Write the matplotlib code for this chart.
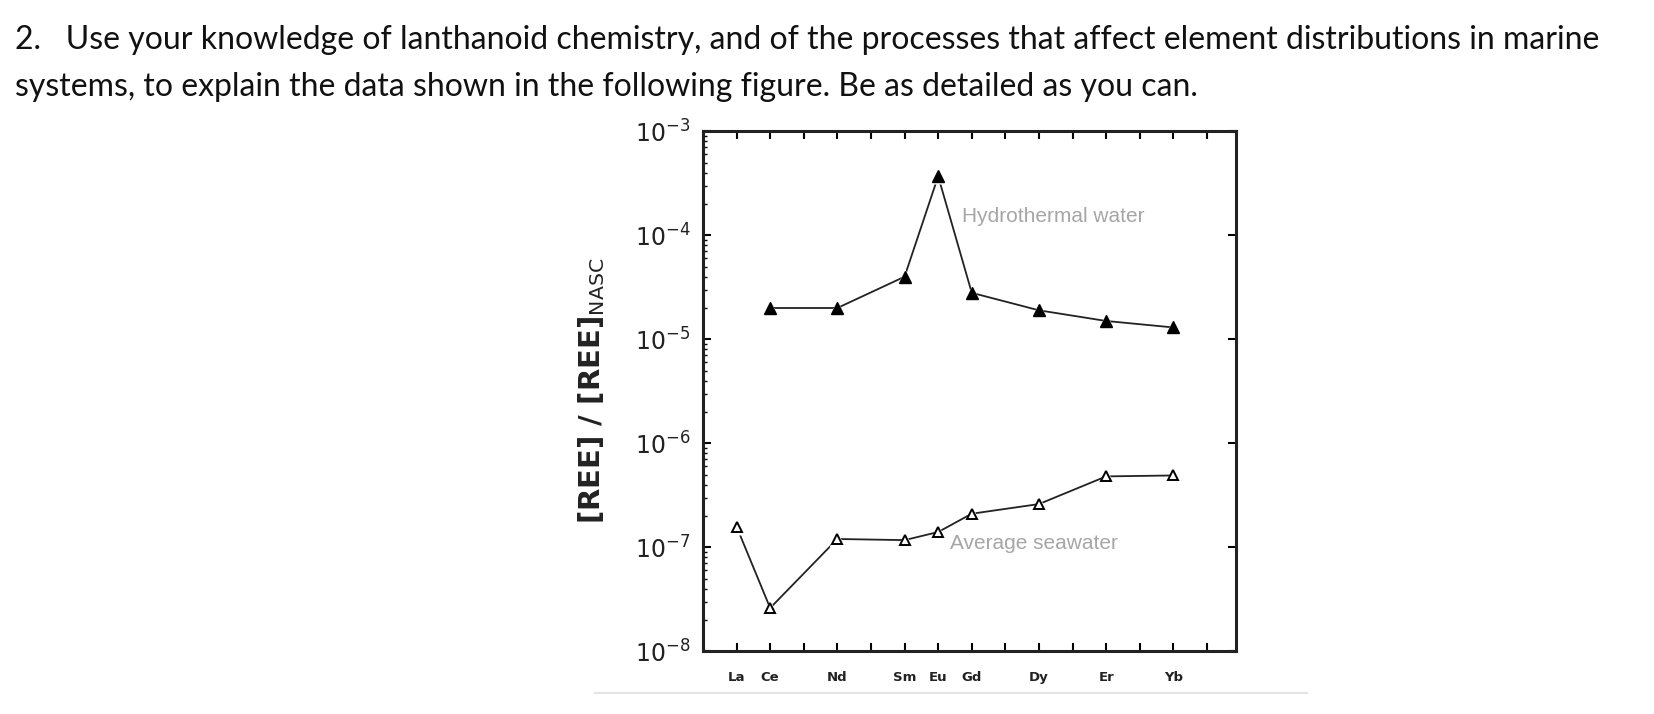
import matplotlib.pyplot as plt
from matplotlib.ticker import LogLocator, NullFormatter, FixedLocator

# REE positions La..Lu (1..15), labels only on the plotted elements
elements = ["La", "Ce", "Pr", "Nd", "Pm", "Sm", "Eu", "Gd", "Tb", "Dy", "Ho", "Er", "Tm", "Yb", "Lu"]
tick_labels = ["La", "Ce", "", "Nd", "", "Sm", "Eu", "Gd", "", "Dy", "", "Er", "", "Yb", ""]

hydro_elems = ["Ce", "Nd", "Sm", "Eu", "Gd", "Dy", "Er", "Yb"]
hydro_vals = [2.0e-5, 2.0e-5, 4.0e-5, 3.7e-4, 2.8e-5, 1.9e-5, 1.5e-5, 1.3e-5]

sea_elems = ["La", "Ce", "Nd", "Sm", "Eu", "Gd", "Dy", "Er", "Yb"]
sea_vals = [1.58e-7, 2.6e-8, 1.2e-7, 1.17e-7, 1.4e-7, 2.1e-7, 2.6e-7, 4.8e-7, 4.9e-7]

question = ("2.   Use your knowledge of lanthanoid chemistry, and of the processes that affect element distributions in marine\n"
            "systems, to explain the data shown in the following figure. Be as detailed as you can.")

hx = [elements.index(e) + 1 for e in hydro_elems]
sx = [elements.index(e) + 1 for e in sea_elems]

fig = plt.figure(figsize=(16.54, 7.14), dpi=100)
fig.text(0.009, 0.965, question, ha="left", va="top", fontsize=23,
         family="Lato", linespacing=1.7, color="#111111")

ax = fig.add_axes([0.425, 0.088, 0.322, 0.728])
ax.set_yscale("log")
ax.set_ylim(1e-8, 1e-3)
ax.set_xlim(0, 15.85)

# hydrothermal water: filled triangles, line broken near markers
ax.plot(hx, hydro_vals, color="#222222", lw=1.3, zorder=2)
ax.plot(hx, hydro_vals, ls="none", marker="^", ms=12, mfc="white", mec="none", zorder=3)
ax.plot(hx, hydro_vals, ls="none", marker="^", ms=8, mfc="black", mec="black", zorder=4)

# average seawater: open triangles
ax.plot(sx, sea_vals, color="#222222", lw=1.3, zorder=2)
ax.plot(sx, sea_vals, ls="none", marker="^", ms=12, mfc="white", mec="none", zorder=3)
ax.plot(sx, sea_vals, ls="none", marker="^", ms=7.5, mfc="white", mec="black", mew=1.4, zorder=4)

ax.text(7.7, 1.35e-4, "Hydrothermal water", color="#a6a6a6", fontsize=15, family="Liberation Sans")
ax.text(7.35, 0.97e-7, "Average seawater", color="#a6a6a6", fontsize=15, family="Liberation Sans")

for s in ax.spines.values():
    s.set_linewidth(2.2)
    s.set_color("#222222")

ax.xaxis.set_major_locator(FixedLocator(range(1, 16)))
ax.set_xticklabels(tick_labels, fontsize=9.5, fontweight="bold", family="DejaVu Sans", color="#222222")
ax.tick_params(axis="x", which="major", direction="in", length=6, width=1.5, top=True, pad=14)
ax.yaxis.set_major_locator(LogLocator(base=10, numticks=10))
ax.yaxis.set_minor_locator(LogLocator(base=10, subs=[2, 3, 4, 5, 6, 7, 8, 9], numticks=20))
ax.yaxis.set_minor_formatter(NullFormatter())
ax.tick_params(axis="y", which="major", direction="in", length=6, width=1.5, right=True,
               labelsize=17, pad=9, labelcolor="#222222")

ax.tick_params(axis="y", which="minor", direction="in", length=3, width=1)

ax.set_ylabel(r"[REE] / [REE]$_{\mathrm{NASC}}$", fontsize=21, fontweight="bold",
              family="DejaVu Sans", color="#222222", labelpad=20)

# faint scan line beneath the figure
fig.add_artist(plt.Line2D([0.36, 0.79], [0.03, 0.03], color="#e4e4e4", lw=1.5))

fig.savefig("out.png", dpi=100)
